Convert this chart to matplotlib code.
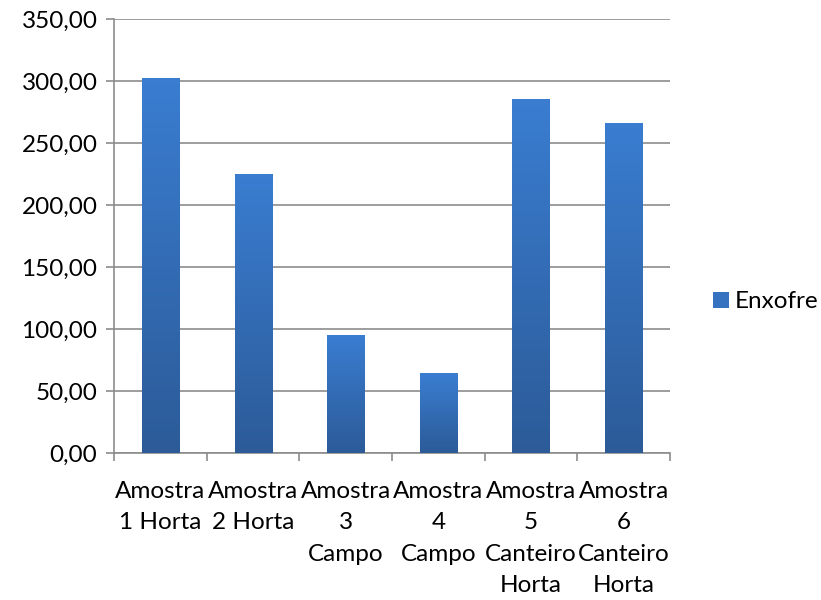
import numpy as np
import matplotlib.pyplot as plt
from matplotlib.colors import LinearSegmentedColormap
from matplotlib.ticker import FuncFormatter, FixedLocator

# Sulphur content per sample
amostras = [
    "Amostra\n1 Horta",
    "Amostra\n2 Horta",
    "Amostra\n3\nCampo",
    "Amostra\n4\nCampo",
    "Amostra\n5\nCanteiro\nHorta",
    "Amostra\n6\nCanteiro\nHorta",
]
enxofre = [302.2, 225.5, 95.2, 64.3, 285.3, 265.9]
serie = "Enxofre"

plt.rcParams["font.family"] = ["Lato", "DejaVu Sans"]
FS = 17.5

fig = plt.figure(figsize=(8.21, 6.0), dpi=100)
ax = fig.add_axes([0.139, 0.245, 0.677, 0.723])

x = np.arange(len(enxofre))
bars = ax.bar(x, enxofre, width=0.4, color="#3572c0", zorder=2, label=serie)

# vertical gradient inside each bar, lighter on top
grad = LinearSegmentedColormap.from_list("bar", ["#2c5b98", "#3a7dd1"])
gimg = np.linspace(0, 1, 256).reshape(-1, 1)
for b in bars:
    x0, w, h = b.get_x(), b.get_width(), b.get_height()
    im = ax.imshow(gimg, cmap=grad, aspect="auto", origin="lower",
                   extent=[x0, x0 + w, 0, h], zorder=3)
    im.set_clip_path(b)

ax.set_xlim(-0.5, len(enxofre) - 0.5)
ax.set_ylim(0, 350)
ax.yaxis.set_major_locator(FixedLocator(np.arange(0, 351, 50)))
ax.yaxis.set_major_formatter(FuncFormatter(lambda v, p: f"{v:.2f}".replace(".", ",")))
ax.grid(axis="y", color="#8c8c8c", linewidth=1.2, zorder=0)

# category boundaries get the ticks, labels sit at the centres
ax.set_xticks(np.arange(-0.5, len(enxofre)), minor=False)
ax.set_xticklabels([])
ax.set_xticks(x, minor=True)
ax.set_xticklabels(amostras, minor=True, va="top", linespacing=1.62)
ax.tick_params(axis="x", which="minor", length=0, pad=20, labelsize=FS)
ax.tick_params(axis="x", which="major", length=6, width=1.2, color="#8c8c8c")
ax.tick_params(axis="y", length=6, width=1.2, color="#8c8c8c", labelsize=FS, pad=6)

for s in ["top", "right"]:
    ax.spines[s].set_visible(False)
for s in ["left", "bottom"]:
    ax.spines[s].set_color("#8c8c8c")
    ax.spines[s].set_linewidth(1.2)

leg = fig.legend(handles=[bars], labels=[serie], loc="center left",
                 bbox_to_anchor=(0.868, 0.497), frameon=False,
                 fontsize=FS, handlelength=0.66, handleheight=0.62, handletextpad=0.25,
                 borderaxespad=0, borderpad=0)

fig.savefig("out.png", dpi=100)
